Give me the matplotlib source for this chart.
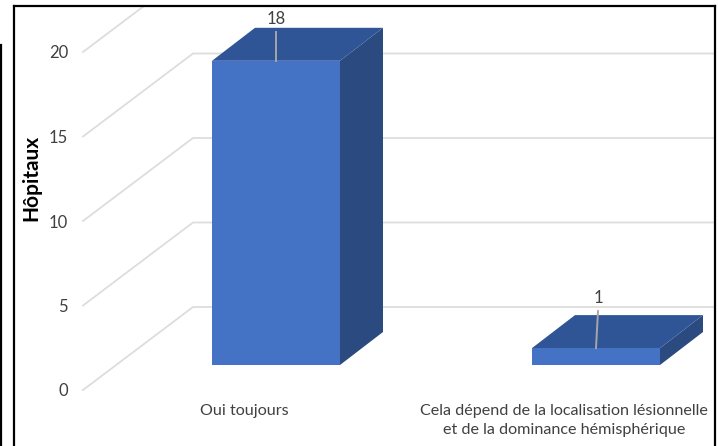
# -*- coding: utf-8 -*-
from matplotlib import pyplot as plt
from matplotlib.patches import Polygon
from matplotlib.lines import Line2D

categories = ['Oui toujours',
              'Cela dépend de la localisation lésionnelle\net de la dominance hémisphérique']
values = [18, 1]
y_ticks = [0, 5, 10, 15, 20]
y_label = 'Hôpitaux'

# pixels par unité
X_UNIT = 320.0
Y_UNIT = 16.9
BAR_W = 128 / X_UNIT
DEPTH_X = 43 / X_UNIT
DEPTH_Y = 33 / Y_UNIT
BASE = 25 / Y_UNIT
WALL_X0 = -193 / X_UNIT
WALL_DX = 110 / X_UNIT
WALL_DY = 83 / Y_UNIT
LABEL_SHIFT = 32 / X_UNIT
LEADER = [29 / Y_UNIT, 37 / Y_UNIT]
LEADER_DX = [0, 2 / X_UNIT]
LABEL_GAP = [34 / Y_UNIT, 42 / Y_UNIT]

FRONT = '#4472C4'
TOP = '#2F5597'
SIDE = '#2A4A80'
GRID = '#DDDDDD'
TEXT = '#404040'

if __name__ == '__main__':
    plt.rcParams['font.family'] = ['Lato', 'DejaVu Sans']
    fig = plt.figure(figsize=(7.18, 4.46), dpi=100)
    ax = fig.add_axes([14 / 718, 0, (715 - 14) / 718, 440 / 446])
    ax.set_xlim((14 - 276) / X_UNIT, (715 - 276) / X_UNIT)
    ax.set_ylim((390 - 446) / Y_UNIT, (390 - 6) / Y_UNIT)

    # grille : paroi de gauche puis fond
    for t in y_ticks:
        ax.plot([WALL_X0, WALL_X0 + WALL_DX, 3], [t, t + WALL_DY, t + WALL_DY],
                color=GRID, lw=1.3, zorder=1)

    for i, v in enumerate(values):
        x0 = i - BAR_W / 2
        x1 = i + BAR_W / 2
        y0 = BASE
        y1 = BASE + v
        ax.add_patch(Polygon([(x1, y0), (x1 + DEPTH_X, y0 + DEPTH_Y), (x1 + DEPTH_X, y1 + DEPTH_Y), (x1, y1)],
                             fc=SIDE, ec='none', zorder=2))
        ax.add_patch(Polygon([(x0, y1), (x1, y1), (x1 + DEPTH_X, y1 + DEPTH_Y), (x0 + DEPTH_X, y1 + DEPTH_Y)],
                             fc=TOP, ec='none', zorder=2))
        ax.add_patch(Polygon([(x0, y0), (x1, y0), (x1, y1), (x0, y1)],
                             fc=FRONT, ec='none', zorder=3))
        # étiquette et trait de rappel
        ax.plot([i, i + LEADER_DX[i]], [y1, y1 + LEADER[i]],
                color='#A6A6A6', lw=1.4, zorder=4)
        ax.text(i + LEADER_DX[i], y1 + LABEL_GAP[i], str(v), ha='center', va='bottom',
                fontsize=12, color=TEXT, zorder=5)

    ax.set_yticks(y_ticks)
    ax.set_yticklabels([str(t) for t in y_ticks], fontsize=12, color=TEXT)
    ax.tick_params(axis='y', length=0, pad=-39)
    ax.set_xticks([i - LABEL_SHIFT for i in range(len(categories))])
    ax.set_xticklabels(categories, fontsize=11.6, color=TEXT, linespacing=1.45)
    ax.tick_params(axis='x', length=0, pad=-30)

    fig.text(31 / 718, 1 - 178 / 446, y_label, rotation=90, ha='center', va='center',
             fontsize=15, fontweight='bold', color='black')

    for s in ['left', 'top', 'right']:
        ax.spines[s].set_linewidth(1.6)
        ax.spines[s].set_color('black')
    ax.spines['bottom'].set_visible(False)

    # trait noir à gauche de l'image
    fig.add_artist(Line2D([1 / 718, 1 / 718], [0, 1 - 45 / 446], color='black', lw=1.6))

    fig.savefig('out.png', dpi=100)
